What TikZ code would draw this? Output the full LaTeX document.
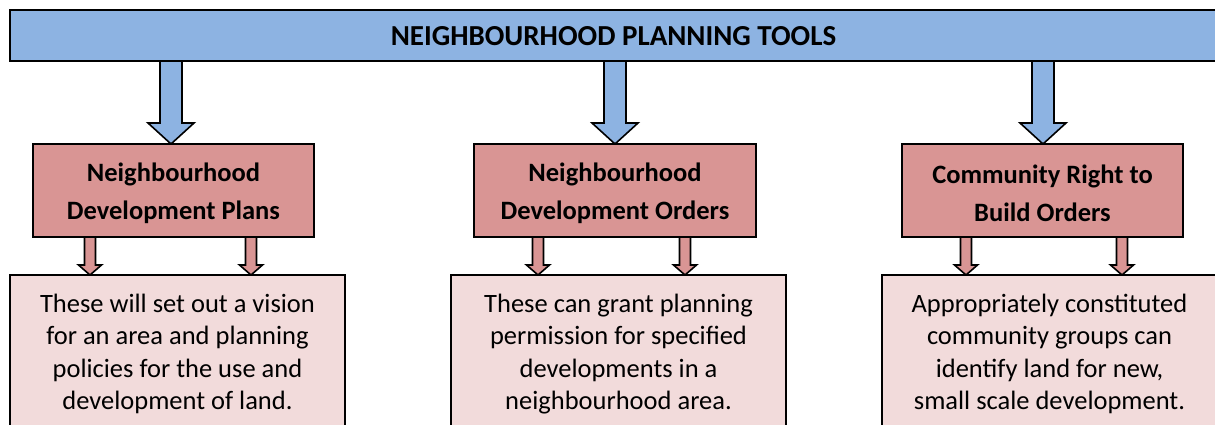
\documentclass[tikz,border=0pt]{standalone}
\usepackage{fontspec}
\setmainfont{Carlito}
\definecolor{barblue}{HTML}{8DB3E2}
\definecolor{boxred}{HTML}{D99594}
\definecolor{boxpink}{HTML}{F2DBDB}
\newcommand\blockarrow[7]{%
  \draw[#7] (#1-#4,#2) -- (#1+#4,#2) -- (#1+#4,#3-#6) -- (#1+#5,#3-#6) -- (#1,#3)
    -- (#1-#5,#3-#6) -- (#1-#4,#3-#6) -- cycle;}
\begin{document}
\begin{tikzpicture}[x=1pt,y=-1pt,
  outl/.style={draw=black,line width=1.6pt,line join=miter},
  bararrow/.style={outl,fill=barblue},
  redarrow/.style={outl,fill=boxred},
  headbox/.style={outl,fill=boxred},
  descbox/.style={outl,fill=boxpink},
  headtxt/.style={font=\fontsize{26.5}{38}\selectfont\bfseries,align=center,text=black},
  desctxt/.style={font=\fontsize{26.5}{32.3}\selectfont,align=center,text=black},
  titletxt/.style={font=\fontsize{29}{32}\selectfont\bfseries,text=black}]
\useasboundingbox (0,0) rectangle (1215,425);
\clip (0,0) rectangle (1215,425);
% top bar
\draw[outl,fill=barblue] (10,10) rectangle (1225,61);
\node[titletxt] (title) at (613.5,36) {NEIGHBOURHOOD PLANNING TOOLS};
% blue arrows
\blockarrow{171}{61}{144}{11}{23}{21}{bararrow}
\blockarrow{615}{61}{144}{11}{23}{21}{bararrow}
\blockarrow{1043}{61}{144}{11}{23}{21}{bararrow}
% head boxes
\draw[headbox] (33,144) rectangle (314,237);
\draw[headbox] (474,144) rectangle (756,237);
\draw[headbox] (902,144) rectangle (1183,237);
\node[headtxt] (h1) at (173.5,193) {Neighbourhood\\Development Plans};
\node[headtxt] (h2) at (615,193) {Neighbourhood\\Development Orders};
\node[headtxt] (h3) at (1042.5,193) {Community Right to\\Build Orders};
% small arrows
\blockarrow{90}{237}{275}{5.5}{11.5}{10}{redarrow}
\blockarrow{251}{237}{275}{5.5}{11.5}{10}{redarrow}
\blockarrow{538}{237}{275}{5.5}{11.5}{10}{redarrow}
\blockarrow{685}{237}{275}{5.5}{11.5}{10}{redarrow}
\blockarrow{966}{237}{275}{5.5}{11.5}{10}{redarrow}
\blockarrow{1122}{237}{275}{5.5}{11.5}{10}{redarrow}
% description boxes
\draw[descbox] (10,275) rectangle (345,440);
\draw[descbox] (451,275) rectangle (786,440);
\draw[descbox] (882,275) rectangle (1217,440);
\node[desctxt] (d1) at (177.5,354) {These will set out a vision\\for an area and planning\\policies for the use and\\development of land.};
\node[desctxt] (d2) at (618.5,354) {These can grant planning\\permission for specified\\developments in a\\neighbourhood area.};
\node[desctxt] (d3) at (1049.5,354) {Appropriately constituted\\community groups can\\identify land for new,\\small scale development.};
\end{tikzpicture}
\end{document}
